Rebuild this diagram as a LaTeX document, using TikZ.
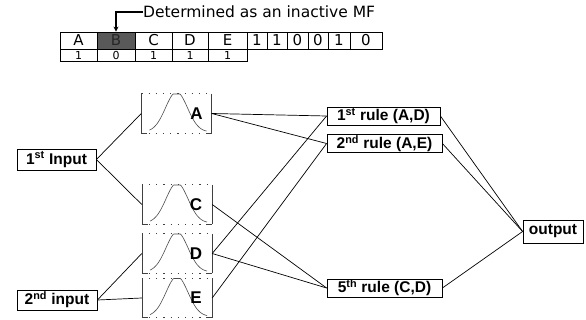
\documentclass[tikz,border=0pt]{standalone}
\usepackage{fontspec}
\setmainfont{Liberation Sans}
\newfontfamily\dvs{DejaVu Sans}
\usetikzlibrary{arrows.meta}
\begin{document}
\begin{tikzpicture}[x=1pt,y=-1pt,
  cell/.style={draw, line width=0.8pt, inner sep=0pt, minimum height=17pt, font=\dvs\fontsize{15}{16}\selectfont},
  lowcell/.style={draw, line width=0.8pt, inner sep=0pt, minimum height=12pt, font=\dvs\fontsize{11}{11}\selectfont},
  lbl/.style={draw, line width=0.8pt, inner sep=0pt, font=\bfseries\fontsize{15.5}{17}\selectfont},
  mf/.style={inner sep=0pt, minimum width=70pt, minimum height=39pt},
  mfletter/.style={font=\bfseries\fontsize{17}{18}\selectfont, inner sep=0pt},
  conn/.style={line width=0.7pt},
  side/.style={draw=black!75, line width=0.6pt},
  edge/.style={draw=black!75, line width=0.6pt, dash pattern=on 1.2pt off 6pt},
  bell/.style={draw=black!70, line width=0.6pt},
]
\useasboundingbox (0,0) rectangle (586,320);

% ---- table ----
\node[cell, minimum width=37pt] (tA) at (78.5,40.5) {A};
\node[cell, minimum width=38pt, fill=black!65, text=black!85] (tB) at (116,40.5) {B};
\node[cell, minimum width=37pt] (tC) at (153.5,40.5) {C};
\node[cell, minimum width=36pt] (tD) at (190,40.5) {D};
\node[cell, minimum width=39pt] (tE) at (227.5,40.5) {E};
\node[cell, minimum width=20pt] (d1) at (257,40.5) {1};
\node[cell, minimum width=20pt] (d2) at (277,40.5) {1};
\node[cell, minimum width=21pt] (d3) at (297.5,40.5) {0};
\node[cell, minimum width=20pt] (d4) at (318,40.5) {0};
\node[cell, minimum width=22pt] (d5) at (339,40.5) {1};
\node[cell, minimum width=32pt] (d6) at (366,40.5) {0};

\node[lowcell, minimum width=37pt] (bA) at (78.5,55) {1};
\node[lowcell, minimum width=38pt] (bB) at (116,55) {0};
\node[lowcell, minimum width=37pt] (bC) at (153.5,55) {1};
\node[lowcell, minimum width=36pt] (bD) at (190,55) {1};
\node[lowcell, minimum width=39pt] (bE) at (227.5,55) {1};

\node[anchor=west, inner sep=0pt, font=\dvs\fontsize{15.5}{17}\selectfont] (note) at (143,12) {Determined as an inactive MF};
\draw[line width=1.6pt, -{Stealth[length=5pt,width=5pt]}] (note.west) -| (tB.north);

% ---- inputs ----
\node[lbl, minimum width=79pt, minimum height=21pt] (in1) at (56.5,159.5) {1\textsuperscript{st} Input};
\node[lbl, minimum width=80pt, minimum height=20pt] (in2) at (57,300) {2\textsuperscript{nd} input};

% ---- membership functions ----
\node[mf] (A) at (176.5,113.5) {};
\node[mf] (C) at (177,204.5) {};
\node[mf] (D) at (177,253.5) {};
\node[mf] (E) at (177,298) {};
\foreach \m in {A,C,D,E}{
  \draw[side] (\m.north west) -- (\m.south west);
  \draw[side] (\m.north east) -- (\m.south east);
  \draw[edge] (\m.north west) -- (\m.north east);
  \draw[edge] (\m.south west) -- (\m.south east);
  \draw[side] (\m.south west) -- ++(6,0);
  \draw[side] (\m.south east) -- ++(-6,0);
  \draw[bell, shift={(\m.center)}] plot[domain=-27:30, samples=80, smooth] (\x, {max(-19.5, 18.5-40*exp(-(\x/15.5)^2))});
}
\node[mfletter] (lA) at ([xshift=20pt]A.center) {A};
\node[mfletter] (lC) at ([xshift=19pt]C.center) {C};
\node[mfletter] (lD) at ([xshift=19pt]D.center) {D};
\node[mfletter] (lE) at ([xshift=19pt]E.center) {E};

% ---- rules ----
\node[lbl, minimum width=113pt, minimum height=18pt] (r1) at (383.5,116) {1\textsuperscript{st} rule (A,D)};
\node[lbl, minimum width=115pt, minimum height=18pt] (r2) at (384.5,143.5) {2\textsuperscript{nd} rule (A,E)};
\node[lbl, minimum width=115pt, minimum height=18pt] (r5) at (384.5,288) {5\textsuperscript{th} rule (C,D)};
\node[lbl, minimum width=60pt, minimum height=23pt] (out) at (553,231.5) {output};

% ---- connectors ----
\draw[conn] (in1.east) -- (A.west);
\draw[conn] (in1.east) -- (C.west);
\draw[conn] (in2.east) -- (D.west);
\draw[conn] (in2.east) -- (E.west);
\draw[conn] (A.east) -- (r1.west);
\draw[conn] (A.east) -- (r2.west);
\draw[conn] (D.east) -- (r1.west);
\draw[conn] (D.east) -- (r5.west);
\draw[conn] (E.east) -- (r2.west);
\draw[conn] (C.east) -- (r5.west);
\draw[conn] (r1.east) -- (out.west);
\draw[conn] (r2.east) -- (out.west);
\draw[conn] (r5.east) -- (out.west);
\end{tikzpicture}
\end{document}
